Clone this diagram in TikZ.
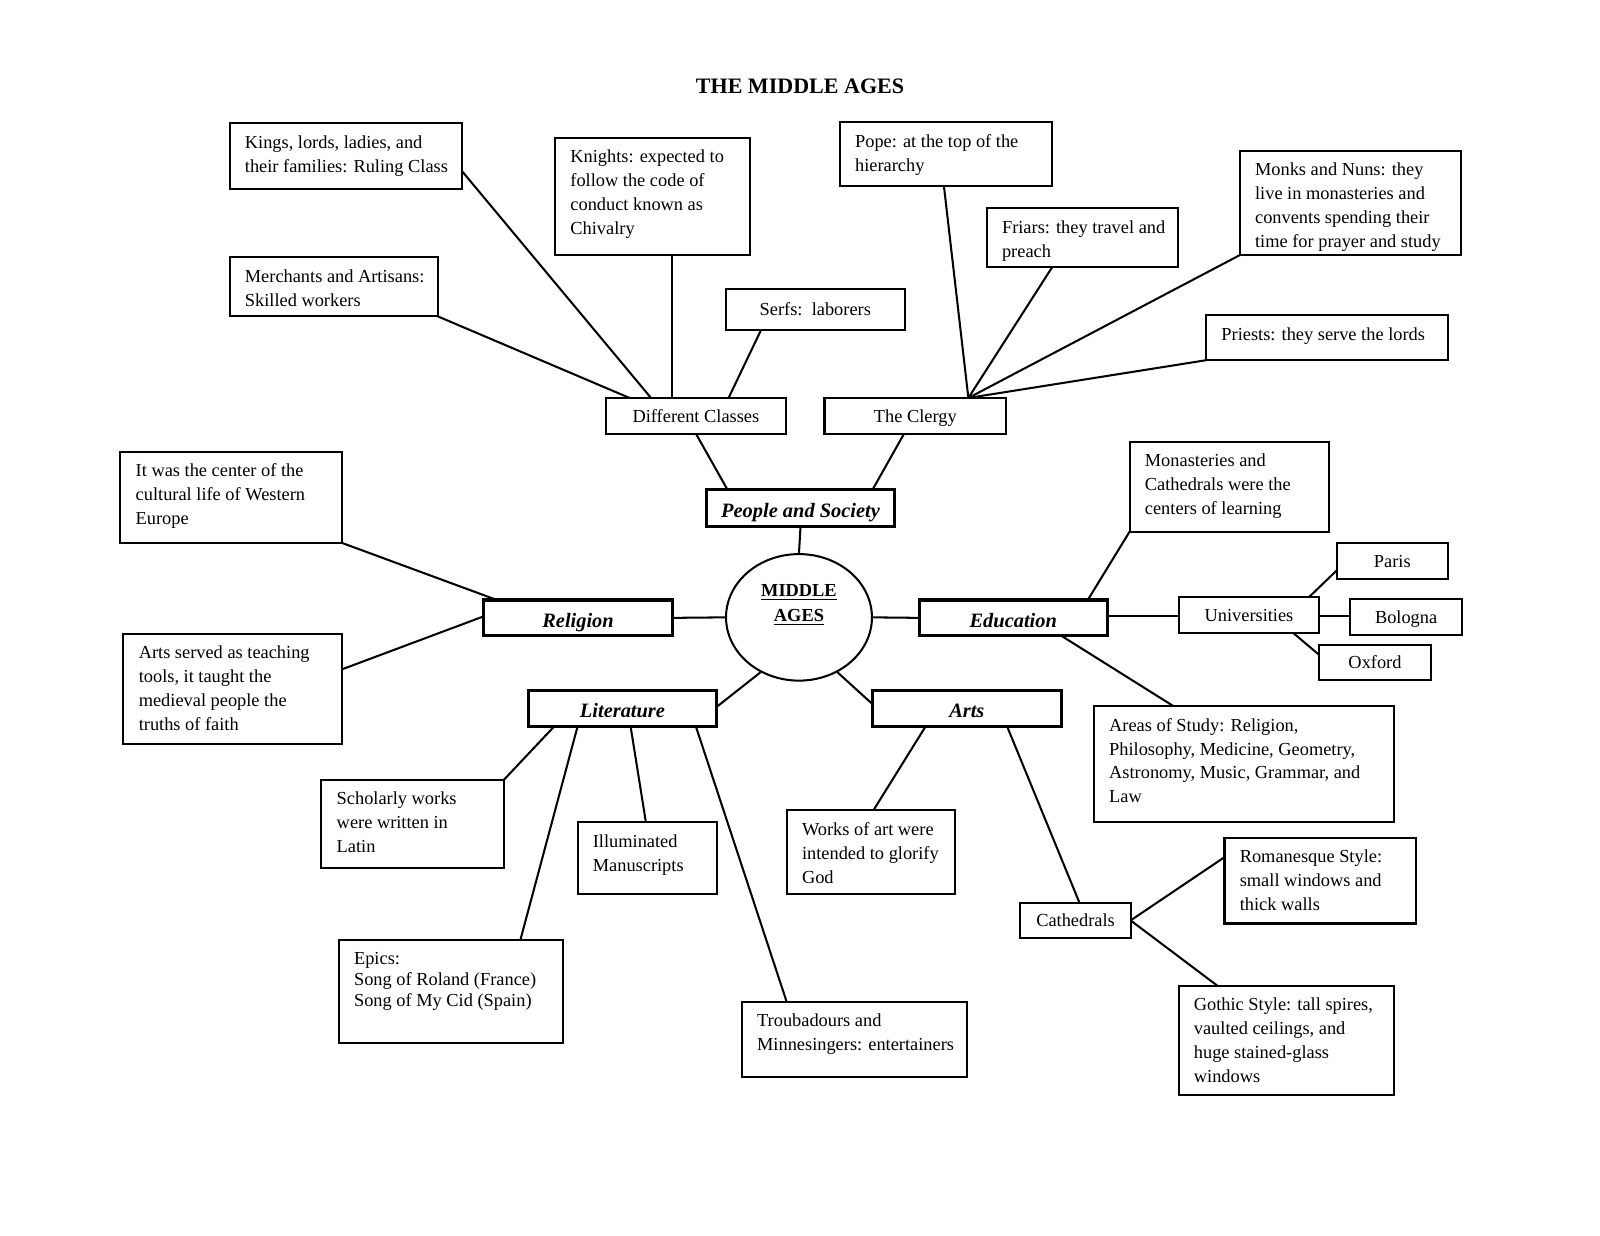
\documentclass[tikz,border=0pt]{standalone}
\usepackage{fontspec}
\setmainfont{Liberation Serif}
\usetikzlibrary{shapes.geometric}
\tikzset{
  ln/.style={line width=1pt},
  tbox/.style={draw, line width=1pt, inner sep=0pt, outer sep=0pt, anchor=north west},
  cbox/.style={draw, line width=1pt, inner sep=0pt, outer sep=0pt, text height=8.2pt, text depth=2pt, font=\fontsize{9}{11.75}\selectfont},
  kbox/.style={draw, line width=1.5pt, inner sep=0pt, outer sep=0pt, text height=11pt, text depth=2pt, font=\fontsize{10}{12}\selectfont\bfseries\itshape},
}
\newcommand\tb[6]{\node[tbox] (#1) at (#2,#3) {\parbox[t][\dimexpr(#5pt-#3pt)/2\relax][t]{\dimexpr(#4pt-#2pt)/2\relax}{\fontsize{9}{11.75}\selectfont\raggedright\leftskip=7.5pt\parindent=0pt\vspace*{4pt}\rule{0pt}{8.2pt}#6}};}
\newcommand\cb[7][cbox]{\node[#1, minimum width={(#5-#3)*0.5pt}, minimum height={(#6-#4)*0.5pt}] (#2) at ({(#3+#5)/2},{(#4+#6)/2}) {#7};}
\begin{document}
\begin{tikzpicture}[x=0.5pt, y=-0.5pt]
\fill[white] (0,0) rectangle (1568,1211);
\useasboundingbox (0,0) rectangle (1568,1211);
\node[font=\fontsize{10.8}{13}\selectfont\bfseries] (title) at (784,85) {THE MIDDLE AGES};
% People and Society branch
\tb{kings}{225}{121}{453}{185}{Kings, lords, ladies, and\\their families: Ruling Class}
\tb{knights}{544}{135}{735}{250}{Knights: expected to\\follow the code of\\conduct known as\\Chivalry}
\tb{merch}{225}{252}{429}{310}{Merchants and Artisans:\\Skilled workers}
\cb{serfs}{711}{283}{887}{323}{Serfs:\ \ laborers}
\cb{dc}{594}{390}{770}{425}{Different Classes}
\cb{clergy}{808}{390}{986}{425}{The Clergy}
\tb{pope}{823}{120}{1031}{182}{Pope: at the top of the\\hierarchy}
\tb{friars}{967}{204}{1154}{262}{Friars: they travel and\\preach}
\tb{monks}{1215}{148}{1432}{250}{Monks and Nuns: they\\live in monasteries and\\convents spending their\\time for prayer and study}
\tb{priests}{1182}{309}{1419}{353}{Priests: they serve the lords}
\cb[kbox]{ps}{692}{480}{877}{516}{People and Society}
% centre
\node[ellipse, draw, line width=1pt, minimum width=71.5pt, minimum height=62pt, inner sep=0pt] (mid) at (783,605) {};
\node[font=\fontsize{9}{12.5}\selectfont\bfseries, align=center] (midtxt) at (783,593) {\underline{MIDDLE}\\\underline{AGES}};
\cb[kbox]{rel}{474}{588}{659}{623}{Religion}
\cb[kbox]{edu}{901}{588}{1085}{623}{Education}
\cb[kbox]{lit}{518}{677}{702}{712}{Literature}
\cb[kbox]{arts}{855}{677}{1040}{712}{Arts}
% Religion
\tb{itw}{118}{443}{335}{532}{It was the center of the\\cultural life of Western\\Europe}
\tb{artsv}{121}{621}{335}{729}{Arts served as teaching\\tools, it taught the\\medieval people the\\truths of faith}
% Education
\tb{mon}{1107}{433}{1302}{521}{Monasteries and\\Cathedrals were the\\centers of learning}
\cb{univ}{1155}{585}{1293}{620}{Universities}
\cb{paris}{1310}{532}{1419}{567}{Paris}
\cb{bologna}{1323}{587}{1433}{622}{Bologna}
\cb{oxford}{1293}{632}{1402}{666}{Oxford}
\tb{areas}{1072}{692}{1366}{806}{Areas of Study: Religion,\\Philosophy, Medicine, Geometry,\\Astronomy, Music, Grammar, and\\Law}
% Literature
\tb{schol}{315}{764}{494}{851}{Scholarly works\\were written in\\Latin}
\tb{illum}{566}{806}{703}{876}{Illuminated\\Manuscripts}
\tb{epics}{332}{921}{552}{1022}{\baselineskip=10.25pt Epics:\\Song of Roland (France)\\Song of My Cid (Spain)}
\tb{troub}{727}{982}{948}{1055}{Troubadours and\\Minnesingers: entertainers}
% Arts
\tb{works}{771}{794}{936}{876}{Works of art were\\intended to glorify\\God}
\cb{cath}{1000}{885}{1108}{919}{Cathedrals}
\tb{roman}{1200}{821}{1388}{905}{Romanesque Style:\\small windows and\\thick walls}
\tb{gothic}{1155}{966}{1366}{1073}{Gothic Style: tall spires,\\vaulted ceilings, and\\huge stained-glass\\windows}
% connectors
\draw[ln] (kings.east |- 0,168) -- (dc.north -| 638,0);
\draw[ln] (knights.south -| 659,0) -- (dc.north -| 659,0);
\draw[ln] (merch.south east) -- (dc.north -| 617,0);
\draw[ln] (serfs.south -| 746,0) -- (dc.north -| 714,0);
\draw[ln] (dc.south) -- (ps.north -| 713,0);
\draw[ln] (clergy.south -| 886,0) -- (ps.north -| 855,0);
\coordinate (hub) at (clergy.north -| 949,0);
\draw[ln] (pope.south -| 925,0) -- (hub);
\draw[ln] (friars.south -| 1031,0) -- (hub);
\draw[ln] (monks.south west) -- (hub);
\draw[ln] (priests.south west) -- (hub);
\draw[ln] (ps.south) -- (mid.north);
\draw[ln] (rel.north -| 487,0) -- (itw.south east);
\draw[ln] (rel.west |- 0,604) -- (artsv.east |- 0,656);
\draw[ln] (rel.east) -- (mid.west);
\draw[ln] (mid.east) -- (edu.west);
\draw[ln] (edu.north -| 1066,0) -- (mon.south west);
\draw[ln] (edu.east |- 0,604) -- (univ.west |- 0,604);
\draw[ln] (edu.south -| 1040,0) -- (areas.north -| 1150,0);
\draw[ln] (univ.north -| 1283,0) -- (paris.west |- 0,559);
\draw[ln] (univ.east |- 0,604) -- (bologna.west |- 0,604);
\draw[ln] (univ.south -| 1267,0) -- (oxford.west |- 0,642);
\draw[ln] (mid.235) -- (lit.east |- 0,693);
\draw[ln] (mid.305) -- (arts.west |- 0,690);
\draw[ln] (lit.south -| 543,0) -- (schol.north east);
\draw[ln] (lit.south -| 566,0) -- (epics.north -| 510,0);
\draw[ln] (lit.south -| 618,0) -- (illum.north -| 633,0);
\draw[ln] (lit.south -| 682,0) -- (troub.north -| 771,0);
\draw[ln] (arts.south -| 907,0) -- (works.north -| 856,0);
\draw[ln] (arts.south -| 987,0) -- (cath.north -| 1058,0);
\draw[ln] (cath.east) -- (roman.west |- 0,840);
\draw[ln] (cath.east) -- (gothic.north -| 1193,0);
\end{tikzpicture}
\end{document}
